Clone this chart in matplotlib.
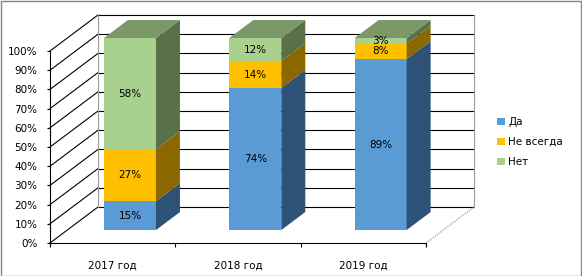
import matplotlib.pyplot as plt
from matplotlib.patches import Polygon, Rectangle, Patch

# data
years = ["2017 год", "2018 год", "2019 год"]
series_names = ["Да", "Не всегда", "Нет"]
da = [15, 74, 89]
ne_vsegda = [27, 14, 8]
net = [58, 12, 3]
pct_ticks = list(range(0, 101, 10))

front_colors = ["#5B9BD5", "#FFC000", "#A9D18E"]
side_colors = ["#2E5275", "#8B6700", "#5A7048"]
top_color = "#7A9966"

fig = plt.figure(figsize=(5.82, 2.76), dpi=100)
ax = fig.add_axes([50 / 582, 33 / 276, 376 / 582, 192 / 276])
ax.set_xlim(0, 3)
ax.set_ylim(0, 100)

# 3d depth offset of the walls in data units
dx = 48 / 376 * 3
dy = 36 / 192 * 100
f0, f1 = 0.36, 0.86  # bar front / back position inside the depth
hw = 0.2075

# walls
for v in pct_ticks:
    ax.plot([0, dx], [v, v + dy], color="black", lw=0.8, clip_on=False, zorder=1)
    ax.plot([dx, 3 + dx], [v + dy, v + dy], color="black", lw=0.8, clip_on=False, zorder=1)
ax.plot([dx, dx], [dy, 100 + dy], color="#999999", lw=0.8, clip_on=False, zorder=1)
ax.plot([3 + dx, 3 + dx], [dy, 100 + dy], color="#999999", lw=0.8, clip_on=False, zorder=1)
ax.plot([3, 3 + dx], [0, dy], color="#888888", lw=0.8, ls=(0, (1, 1)), clip_on=False, zorder=1)

# bars
for i in range(len(years)):
    c = i + 0.5
    bottom = 0
    vals = [da[i], ne_vsegda[i], net[i]]
    for k, v in enumerate(vals):
        top = bottom + v
        x0, x1 = c - hw + f0 * dx, c + hw + f0 * dx
        ax.add_patch(Polygon([(x0, bottom + f0 * dy), (x1, bottom + f0 * dy),
                              (x1, top + f0 * dy), (x0, top + f0 * dy)],
                             closed=True, facecolor=front_colors[k], edgecolor="none",
                             clip_on=False, zorder=3))
        sx0, sx1 = c + hw + f0 * dx, c + hw + f1 * dx
        ax.add_patch(Polygon([(sx0, bottom + f0 * dy), (sx1, bottom + f1 * dy),
                              (sx1, top + f1 * dy), (sx0, top + f0 * dy)],
                             closed=True, facecolor=side_colors[k], edgecolor="none",
                             clip_on=False, zorder=3))
        ax.text(c + f0 * dx, bottom + v / 2 + f0 * dy, f"{v}%", ha="center", va="center",
                fontsize=7.5, zorder=4)
        bottom = top
    ax.add_patch(Polygon([(c - hw + f0 * dx, 100 + f0 * dy), (c + hw + f0 * dx, 100 + f0 * dy),
                          (c + hw + f1 * dx, 100 + f1 * dy), (c - hw + f1 * dx, 100 + f1 * dy)],
                         closed=True, facecolor=top_color, edgecolor="none",
                         clip_on=False, zorder=3))

# axes
for s in ["top", "right"]:
    ax.spines[s].set_visible(False)
ax.spines["left"].set_linewidth(0.8)
ax.spines["bottom"].set_linewidth(0.8)
ax.set_facecolor("none")
ax.set_yticks(pct_ticks)
ax.set_yticklabels([f"{v}%" for v in pct_ticks], fontsize=7.5)
ax.tick_params(axis="y", length=2, width=0.8, pad=7)
ax.set_xticks([0, 1, 2, 3])
ax.set_xticklabels([])
ax.tick_params(axis="x", which="major", length=3, width=0.8, direction="out")
ax.set_xticks([0.5, 1.5, 2.5], minor=True)
ax.set_xticklabels(years, minor=True, fontsize=7.5)
ax.tick_params(axis="x", which="minor", length=0, pad=13)

handles = [Patch(facecolor=col, edgecolor="none") for col in front_colors]
fig.legend(handles, series_names, loc="upper left", bbox_to_anchor=(493 / 582, 1 - 113 / 276),
           frameon=False, fontsize=7.5, handlelength=0.75, handleheight=0.75,
           handletextpad=0.3, labelspacing=0.95, borderaxespad=0)

fig.patches.append(Rectangle((0.5 / 582, 0.5 / 276), 580.5 / 582, 274.5 / 276,
                             transform=fig.transFigure, fill=False,
                             edgecolor="#868686", lw=1))

fig.savefig("out.png", dpi=100)
